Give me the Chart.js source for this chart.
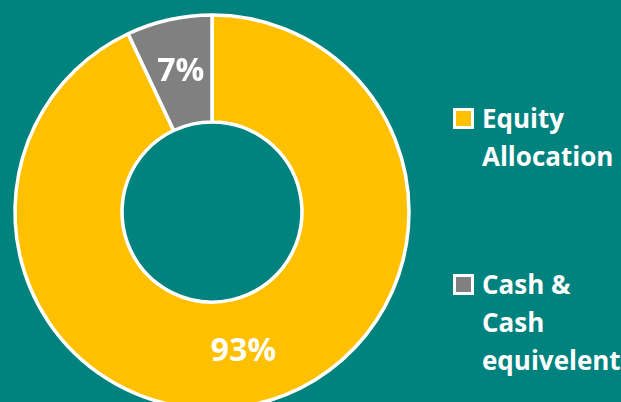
<!DOCTYPE html>
<html>
<head>
<meta charset="utf-8">
<script src="https://cdn.jsdelivr.net/npm/chart.js@4"></script>
<style>
  html, body { margin: 0; padding: 0; }
  body {
    width: 621px; height: 402px; overflow: hidden; position: relative;
    background: #00827f;
    font-family: "Open Sans", sans-serif;
  }
  #wrap { position: absolute; left: 0; top: 0; width: 424px; height: 424px; }
  #legend { position: absolute; left: 453px; top: 0; }
  .item { position: absolute; left: 0; white-space: nowrap; }
  .box {
    position: absolute; left: 0; width: 15px; height: 15px;
    border: 3px solid #fff;
  }
  .txt {
    position: absolute; left: 29px; top: 0;
    color: #fff; font-weight: bold; font-size: 26px; line-height: 38px;
  }
</style>
</head>
<body>
<div id="wrap"><canvas id="myChart" width="424" height="424"></canvas></div>
<div id="legend"></div>
<script>
  const categories = [['Equity', 'Allocation'], ['Cash &', 'Cash', 'equivelent']];
  const valores = [93, 7];
  const cores = ['#ffc000', '#808080'];
  const legendTops = [99, 265];

  // rótulos de porcentagem no meio de cada fatia
  const rotulosPlugin = {
    id: 'rotulos',
    afterDatasetsDraw(chart) {
      const ctx = chart.ctx;
      const meta = chart.getDatasetMeta(0);
      ctx.save();
      ctx.fillStyle = '#fff';
      ctx.font = 'bold 32px "Open Sans"';
      ctx.textAlign = 'center';
      ctx.textBaseline = 'middle';
      meta.data.forEach((arc, i) => {
        const pos = arc.tooltipPosition();
        ctx.fillText(valores[i] + '%', pos.x, pos.y);
      });
      ctx.restore();
    }
  };

  const ctx = document.getElementById('myChart').getContext('2d');
  const chart = new Chart(ctx, {
    type: 'doughnut',
    data: {
      labels: categories,
      datasets: [{
        data: valores,
        backgroundColor: cores,
        borderColor: '#fff',
        borderWidth: 3.5
      }]
    },
    options: {
      responsive: false,
      animation: false,
      radius: 197,
      cutout: '45.7%',
      rotation: 0,
      layout: { padding: 0 },
      plugins: {
        legend: { display: false },
        tooltip: { enabled: false }
      }
    },
    plugins: [rotulosPlugin]
  });

  // legenda em HTML, montada a partir dos dados
  const legend = document.getElementById('legend');
  chart.data.labels.forEach((linhas, i) => {
    const item = document.createElement('div');
    item.className = 'item';
    item.style.top = legendTops[i] + 'px';
    const box = document.createElement('div');
    box.className = 'box';
    box.style.top = '9px';
    box.style.background = cores[i];
    const txt = document.createElement('div');
    txt.className = 'txt';
    txt.innerHTML = linhas.map(l => l.replace('&', '&amp;')).join('<br>');
    item.appendChild(box);
    item.appendChild(txt);
    legend.appendChild(item);
  });
</script>
</body>
</html>
